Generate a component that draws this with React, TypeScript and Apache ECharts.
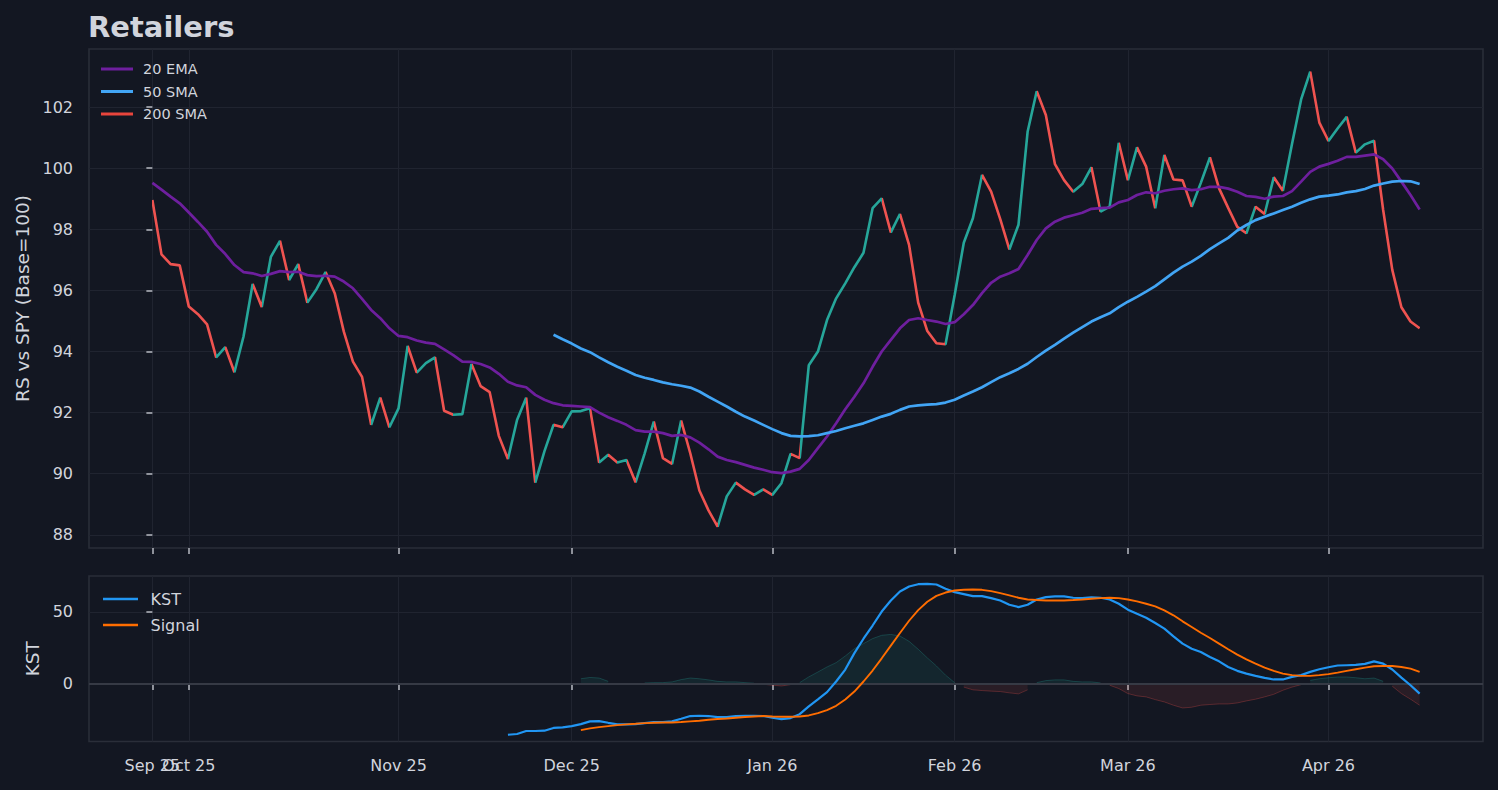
import React, { useEffect, useRef } from "react";
import * as echarts from "echarts";

// ---- x axis (trading-day index) ----
const tickIndex = [0, 4, 27, 46, 68, 88, 107, 129];
const tickLabels = ["Sep 25", "Oct 25", "Nov 25", "Dec 25", "Jan 26", "Feb 26", "Mar 26", "Apr 26"];

// ---- top panel ----
const priceTicks = [88, 90, 92, 94, 96, 98, 100, 102];
const price = [
  98.96, 97.18, 96.86, 96.82, 95.47, 95.22, 94.89, 93.81, 94.14, 93.32,
  94.49, 96.21, 95.46, 97.10, 97.62, 96.34, 96.86, 95.60, 96.04, 96.60,
  95.91, 94.65, 93.67, 93.17, 91.60, 92.49, 91.52, 92.14, 94.18, 93.31,
  93.62, 93.81, 92.06, 91.93, 91.95, 93.59, 92.87, 92.67, 91.24, 90.48,
  91.76, 92.49, 89.71, 90.73, 91.60, 91.52, 92.04, 92.05, 92.14, 90.37,
  90.62, 90.37, 90.45, 89.72, 90.67, 91.71, 90.51, 90.32, 91.74, 90.67,
  89.45, 88.80, 88.27, 89.26, 89.71, 89.49, 89.31, 89.49, 89.31, 89.69,
  90.65, 90.51, 93.55, 94.00, 95.03, 95.74, 96.23, 96.76, 97.23, 98.69,
  99.01, 97.90, 98.50, 97.49, 95.60, 94.67, 94.27, 94.24, 95.85, 97.56,
  98.36, 99.78, 99.23, 98.33, 97.34, 98.15, 101.19, 102.52, 101.74, 100.13,
  99.61, 99.23, 99.48, 100.03, 98.58, 98.74, 100.83, 99.61, 100.68, 100.05,
  98.69, 100.43, 99.63, 99.60, 98.74, 99.52, 100.35, 99.34, 98.70, 98.08,
  97.87, 98.74, 98.50, 99.70, 99.26, 100.79, 102.25, 103.16, 101.49, 100.89,
  101.30, 101.68, 100.51, 100.78, 100.90, 98.63, 96.67, 95.45, 94.98, 94.76,
];
const ema20 = [
  99.52, 99.30, 99.07, 98.85, 98.55, 98.24, 97.92, 97.49, 97.19, 96.83,
  96.60, 96.56, 96.47, 96.54, 96.63, 96.60, 96.61, 96.50, 96.47, 96.48,
  96.45, 96.29, 96.07, 95.72, 95.36, 95.09, 94.76, 94.51, 94.47, 94.36,
  94.29, 94.25, 94.07, 93.88, 93.67, 93.66, 93.59, 93.48, 93.27, 93.01,
  92.89, 92.83, 92.58, 92.42, 92.31, 92.24, 92.22, 92.20, 92.18, 92.00,
  91.85, 91.73, 91.60, 91.43, 91.38, 91.38, 91.33, 91.24, 91.27, 91.19,
  91.02, 90.80, 90.56, 90.45, 90.38, 90.29, 90.20, 90.13, 90.05, 90.02,
  90.07, 90.16, 90.45, 90.84, 91.22, 91.65, 92.11, 92.52, 92.96, 93.50,
  94.00, 94.38, 94.76, 95.03, 95.09, 95.03, 94.98, 94.90, 94.96, 95.22,
  95.52, 95.91, 96.25, 96.45, 96.56, 96.70, 97.16, 97.65, 98.03, 98.25,
  98.38, 98.46, 98.54, 98.67, 98.69, 98.71, 98.88, 98.96, 99.12, 99.21,
  99.18, 99.26, 99.31, 99.34, 99.28, 99.31, 99.39, 99.39, 99.33, 99.23,
  99.09, 99.06, 99.00, 99.07, 99.09, 99.25, 99.56, 99.88, 100.05, 100.14,
  100.24, 100.37, 100.37, 100.41, 100.45, 100.29, 99.99, 99.56, 99.12, 98.65,
];
const sma50Start = 44;
const sma50 = [
  94.55, 94.40, 94.26, 94.10, 93.98, 93.81, 93.65, 93.50, 93.37, 93.23,
  93.14, 93.07, 92.99, 92.93, 92.88, 92.82, 92.69, 92.52, 92.36, 92.20,
  92.03, 91.87, 91.74, 91.60, 91.46, 91.33, 91.24, 91.22, 91.23, 91.26,
  91.33, 91.40, 91.49, 91.57, 91.65, 91.76, 91.87, 91.96, 92.09, 92.20,
  92.24, 92.26, 92.28, 92.33, 92.42, 92.56, 92.69, 92.83, 93.00, 93.16,
  93.29, 93.43, 93.60, 93.82, 94.03, 94.22, 94.42, 94.62, 94.80, 94.98,
  95.12, 95.25, 95.45, 95.63, 95.79, 95.96, 96.14, 96.36, 96.58, 96.78,
  96.94, 97.13, 97.35, 97.54, 97.72, 97.96, 98.14, 98.30, 98.41, 98.52,
  98.63, 98.74, 98.87, 98.98, 99.07, 99.10, 99.14, 99.21, 99.25, 99.32,
  99.43, 99.50, 99.56, 99.58, 99.57, 99.48,
];
const sma200: number[] = [];

// ---- bottom panel ----
const kstTicks = [0, 50];
const kstStart = 39;
const kst = [
  -35.3, -34.8, -32.7, -32.7, -32.5, -30.6, -30.2, -29.3, -27.9, -26.0,
  -25.8, -27.0, -28.1, -28.1, -27.9, -27.2, -26.5, -26.5, -26.0, -24.2,
  -22.3, -22.1, -22.3, -23.0, -23.0, -22.3, -22.1, -22.1, -22.3, -23.5,
  -24.4, -23.7, -21.0, -15.6, -10.8, -5.7, 1.7, 10.0, 21.4, 31.4,
  40.6, 50.3, 58.0, 64.2, 67.7, 69.3, 69.5, 69.1, 66.1, 63.8,
  62.4, 61.0, 61.0, 59.6, 58.0, 55.0, 53.4, 55.0, 58.7, 60.3,
  60.8, 60.8, 59.9, 59.6, 60.1, 59.9, 58.7, 55.7, 51.6, 48.7,
  46.0, 42.3, 38.4, 33.0, 28.0, 24.5, 22.2, 18.7, 15.7, 11.8,
  9.1, 7.2, 5.6, 4.2, 3.1, 3.1, 4.9, 6.1, 8.4, 10.2,
  11.6, 12.8, 13.0, 13.2, 13.9, 15.7, 14.1, 10.0, 4.4, -0.9,
  -6.7,
];
const signalStart = 47;
const signal = [
  -32.1, -30.9, -30.0, -29.3, -28.6, -28.1, -27.7, -27.2, -27.0, -26.8,
  -26.8, -26.5, -26.0, -25.6, -24.9, -24.4, -24.0, -23.5, -23.0, -22.6,
  -22.3, -22.6, -22.8, -22.8, -22.6, -21.9, -20.3, -18.2, -15.2, -10.8,
  -5.3, 1.7, 9.3, 17.8, 26.6, 35.4, 43.9, 51.3, 57.1, 61.2,
  63.5, 64.9, 65.4, 65.6, 65.4, 64.5, 63.1, 61.5, 59.9, 58.7,
  58.3, 58.0, 58.0, 58.0, 58.3, 58.7, 59.2, 59.6, 59.9, 59.6,
  58.7, 57.4, 55.7, 53.9, 51.1, 47.7, 43.5, 39.6, 35.6, 31.9,
  28.0, 24.1, 20.4, 17.1, 14.1, 11.3, 9.1, 7.2, 6.1, 5.6,
  5.6, 6.1, 6.8, 7.9, 9.1, 10.2, 11.3, 12.3, 12.5, 12.5,
  11.8, 10.6, 8.4,
];
const histStart = 47;
const hist = [
  3.6, 4.5, 4.1, 1.8, -0.2, -0.2, -0.1, 0.7, 0.9, 0.9,
  1.4, 3.0, 4.1, 3.6, 2.8, 1.8, 1.4, 1.4, 0.9, 0.5,
  -0.2, -0.9, -1.4, -0.5, 0.9, 4.9, 8.3, 11.8, 14.8, 19.4,
  24.5, 28.0, 31.5, 33.8, 34.4, 33.3, 29.6, 24.1, 18.1, 12.5,
  6.1, 0.9, -2.2, -4.1, -4.6, -5.0, -5.3, -6.2, -6.9, -4.1,
  0.9, 2.3, 2.8, 2.8, 1.8, 1.4, 1.4, 0.7, -0.9, -3.2,
  -6.7, -8.3, -9.0, -10.9, -12.5, -14.8, -16.7, -16.2, -14.8, -14.3,
  -13.9, -13.9, -13.2, -11.8, -10.6, -9.0, -7.2, -4.4, -2.2, -0.5,
  2.5, 3.6, 4.3, 4.8, 4.8, 4.3, 3.6, 4.1, 1.8, -1.6,
  -6.7, -10.6, -14.8,
];

const FONT = "DejaVu Sans";
const TXT = "#d1d4dc";
const TICK = "#b8bbc3";
const GRIDC = "#202430";
const BORDER = "#2a2e39";
const UP = "#26a69a";
const DOWN = "#ef5350";

const pairs = (arr: number[], start: number) => arr.map((v, k) => [start + k, v]);

export default function App() {
  const ref = useRef<HTMLDivElement>(null);
  useEffect(() => {
    if (!ref.current) return;
    const chart = echarts.init(ref.current, undefined, { renderer: "svg" });

    const pieces: any[] = [];
    for (let i = 0; i < price.length - 1; i++) {
      const col = price[i + 1] >= price[i] ? UP : DOWN;
      if (i === price.length - 2) pieces.push({ gte: i, lte: i + 1, color: col });
      else pieces.push({ gte: i, lt: i + 1, color: col });
    }

    const histPos = hist.map((v, k) => [histStart + k, v >= 0 ? v : null]);
    const histNeg = hist.map((v, k) => [histStart + k, v < 0 ? v : null]);

    const labelFor = (v: number) => {
      const k = tickIndex.indexOf(v);
      return k >= 0 ? tickLabels[k] : "";
    };
    // "Oct 25" sits right next to "Sep 25"; it is put on its own overlay axis so
    // ECharts' first-label overlap rule does not drop it.
    const mainLabelTicks = tickIndex.filter((_, k) => k !== 1);
    const overlayLabelTicks = [tickIndex[1]];

    const labelStyle = { color: TXT, fontSize: 16, fontFamily: FONT, margin: 15.5 };

    const xAxisFor = (g: number) => ({
      type: "value",
      gridIndex: g,
      position: "bottom",
      min: -6.95,
      max: 145.95,
      axisLine: { show: false },
      axisTick: { show: true, customValues: tickIndex, length: 6, lineStyle: { color: TICK, width: 1.5 } },
      axisLabel: {
        show: g === 1,
        customValues: mainLabelTicks,
        showMinLabel: true,
        showMaxLabel: true,
        hideOverlap: false,
        formatter: labelFor,
        ...labelStyle,
      },
      splitLine: { show: true, lineStyle: { color: GRIDC, width: 1 } },
    });

    const option: any = {
      backgroundColor: "#131722",
      animation: false,
      textStyle: { fontFamily: FONT },
      title: {
        text: "Retailers",
        left: 88,
        top: 12,
        padding: 0,
        textStyle: { color: TXT, fontSize: 29, fontWeight: "bold", fontFamily: FONT, lineHeight: 29 },
      },
      grid: [
        { left: 89, top: 49, width: 1394, height: 499, show: true, borderColor: BORDER, borderWidth: 1.6, backgroundColor: "transparent" },
        { left: 89, top: 576, width: 1394, height: 165.5, show: true, borderColor: BORDER, borderWidth: 1.6, backgroundColor: "transparent" },
      ],
      xAxis: [
        xAxisFor(0),
        xAxisFor(1),
        {
          type: "value",
          gridIndex: 1,
          position: "bottom",
          min: -6.95,
          max: 145.95,
          axisLine: { show: false },
          axisTick: { show: false },
          splitLine: { show: false },
          axisLabel: {
            show: true,
            customValues: overlayLabelTicks,
            showMinLabel: true,
            showMaxLabel: true,
            hideOverlap: false,
            formatter: labelFor,
            ...labelStyle,
          },
        },
      ],
      yAxis: [
        {
          type: "value",
          gridIndex: 0,
          min: 87.57,
          max: 103.9,
          axisLine: { show: false },
          axisTick: { show: true, customValues: priceTicks, length: 6, lineStyle: { color: TICK, width: 1.5 } },
          axisLabel: { customValues: priceTicks, color: TXT, fontSize: 16, fontFamily: FONT, margin: 16 },
          splitLine: { show: true, lineStyle: { color: GRIDC, width: 1 } },
          name: "RS vs SPY (Base=100)",
          nameLocation: "middle",
          nameRotate: 90,
          nameGap: 49,
          nameTextStyle: { color: TXT, fontSize: 18.5, fontFamily: FONT },
        },
        {
          type: "value",
          gridIndex: 1,
          min: -40,
          max: 75,
          axisLine: { show: false },
          axisTick: { show: true, customValues: kstTicks, length: 6, lineStyle: { color: TICK, width: 1.5 } },
          axisLabel: { customValues: kstTicks, color: TXT, fontSize: 16, fontFamily: FONT, margin: 16 },
          splitLine: { show: true, lineStyle: { color: GRIDC, width: 1 } },
          name: "KST",
          nameLocation: "middle",
          nameRotate: 90,
          nameGap: 41.5,
          nameTextStyle: { color: TXT, fontSize: 18.5, fontFamily: FONT },
        },
      ],
      legend: [
        {
          data: ["20 EMA", "50 SMA", "200 SMA"],
          orient: "vertical",
          left: 101,
          top: 61,
          icon: "rect",
          itemWidth: 32,
          itemHeight: 3,
          itemGap: 6.5,
          padding: 0,
          selectedMode: false,
          textStyle: { color: TXT, fontSize: 14.5, fontFamily: FONT, lineHeight: 16, padding: [0, 0, 0, 5] },
        },
        {
          data: ["KST", "Signal"],
          orient: "vertical",
          left: 103,
          top: 590,
          icon: "rect",
          itemWidth: 35,
          itemHeight: 2.6,
          itemGap: 8,
          padding: 0,
          selectedMode: false,
          textStyle: { color: TXT, fontSize: 16, fontFamily: FONT, lineHeight: 18, padding: [0, 0, 0, 7.5] },
        },
      ],
      visualMap: {
        type: "piecewise",
        show: false,
        dimension: 0,
        seriesIndex: 0,
        pieces,
      },
      series: [
        {
          name: "Price",
          type: "line",
          xAxisIndex: 0,
          yAxisIndex: 0,
          data: pairs(price, 0),
          symbol: "none",
          lineStyle: { width: 2.6 },
          z: 2,
        },
        {
          name: "20 EMA",
          type: "line",
          xAxisIndex: 0,
          yAxisIndex: 0,
          data: pairs(ema20, 0),
          symbol: "none",
          color: "#6e1f9e",
          itemStyle: { color: "#6e1f9e" },
          lineStyle: { color: "#6e1f9e", width: 2.7 },
          z: 3,
        },
        {
          name: "50 SMA",
          type: "line",
          xAxisIndex: 0,
          yAxisIndex: 0,
          data: pairs(sma50, sma50Start),
          symbol: "none",
          color: "#42a5f5",
          itemStyle: { color: "#42a5f5" },
          lineStyle: { color: "#42a5f5", width: 2.7 },
          z: 3,
        },
        {
          name: "200 SMA",
          type: "line",
          xAxisIndex: 0,
          yAxisIndex: 0,
          data: pairs(sma200, 0),
          symbol: "none",
          color: "#e8453c",
          itemStyle: { color: "#e8453c" },
          lineStyle: { color: "#e8453c", width: 2.7 },
          z: 3,
        },
        {
          name: "HistUp",
          type: "line",
          xAxisIndex: 1,
          yAxisIndex: 1,
          data: histPos,
          symbol: "none",
          connectNulls: false,
          color: UP,
          lineStyle: { color: "rgba(38,166,154,0.28)", width: 1 },
          areaStyle: { color: "rgba(38,166,154,0.15)" },
          z: 1,
        },
        {
          name: "HistDown",
          type: "line",
          xAxisIndex: 1,
          yAxisIndex: 1,
          data: histNeg,
          symbol: "none",
          connectNulls: false,
          color: DOWN,
          lineStyle: { color: "rgba(239,83,80,0.28)", width: 1 },
          areaStyle: { color: "rgba(239,83,80,0.15)" },
          z: 1,
          markLine: {
            silent: true,
            symbol: ["none", "none"],
            z: 2,
            label: { show: false },
            lineStyle: { color: "#363a45", width: 1.8, type: "solid" },
            data: [{ yAxis: 0 }],
          },
        },
        {
          name: "KST",
          type: "line",
          xAxisIndex: 1,
          yAxisIndex: 1,
          data: pairs(kst, kstStart),
          symbol: "none",
          color: "#2196f3",
          itemStyle: { color: "#2196f3" },
          lineStyle: { color: "#2196f3", width: 2.2 },
          z: 3,
        },
        {
          name: "Signal",
          type: "line",
          xAxisIndex: 1,
          yAxisIndex: 1,
          data: pairs(signal, signalStart),
          symbol: "none",
          color: "#ff6d00",
          itemStyle: { color: "#ff6d00" },
          lineStyle: { color: "#ff6d00", width: 1.9 },
          z: 3,
        },
      ],
    };

    chart.setOption(option);
    return () => chart.dispose();
  }, []);

  return (
    <div
      ref={ref}
      style={{ position: "fixed", left: 0, top: 0, width: 1498, height: 790, background: "#131722" }}
    />
  );
}
